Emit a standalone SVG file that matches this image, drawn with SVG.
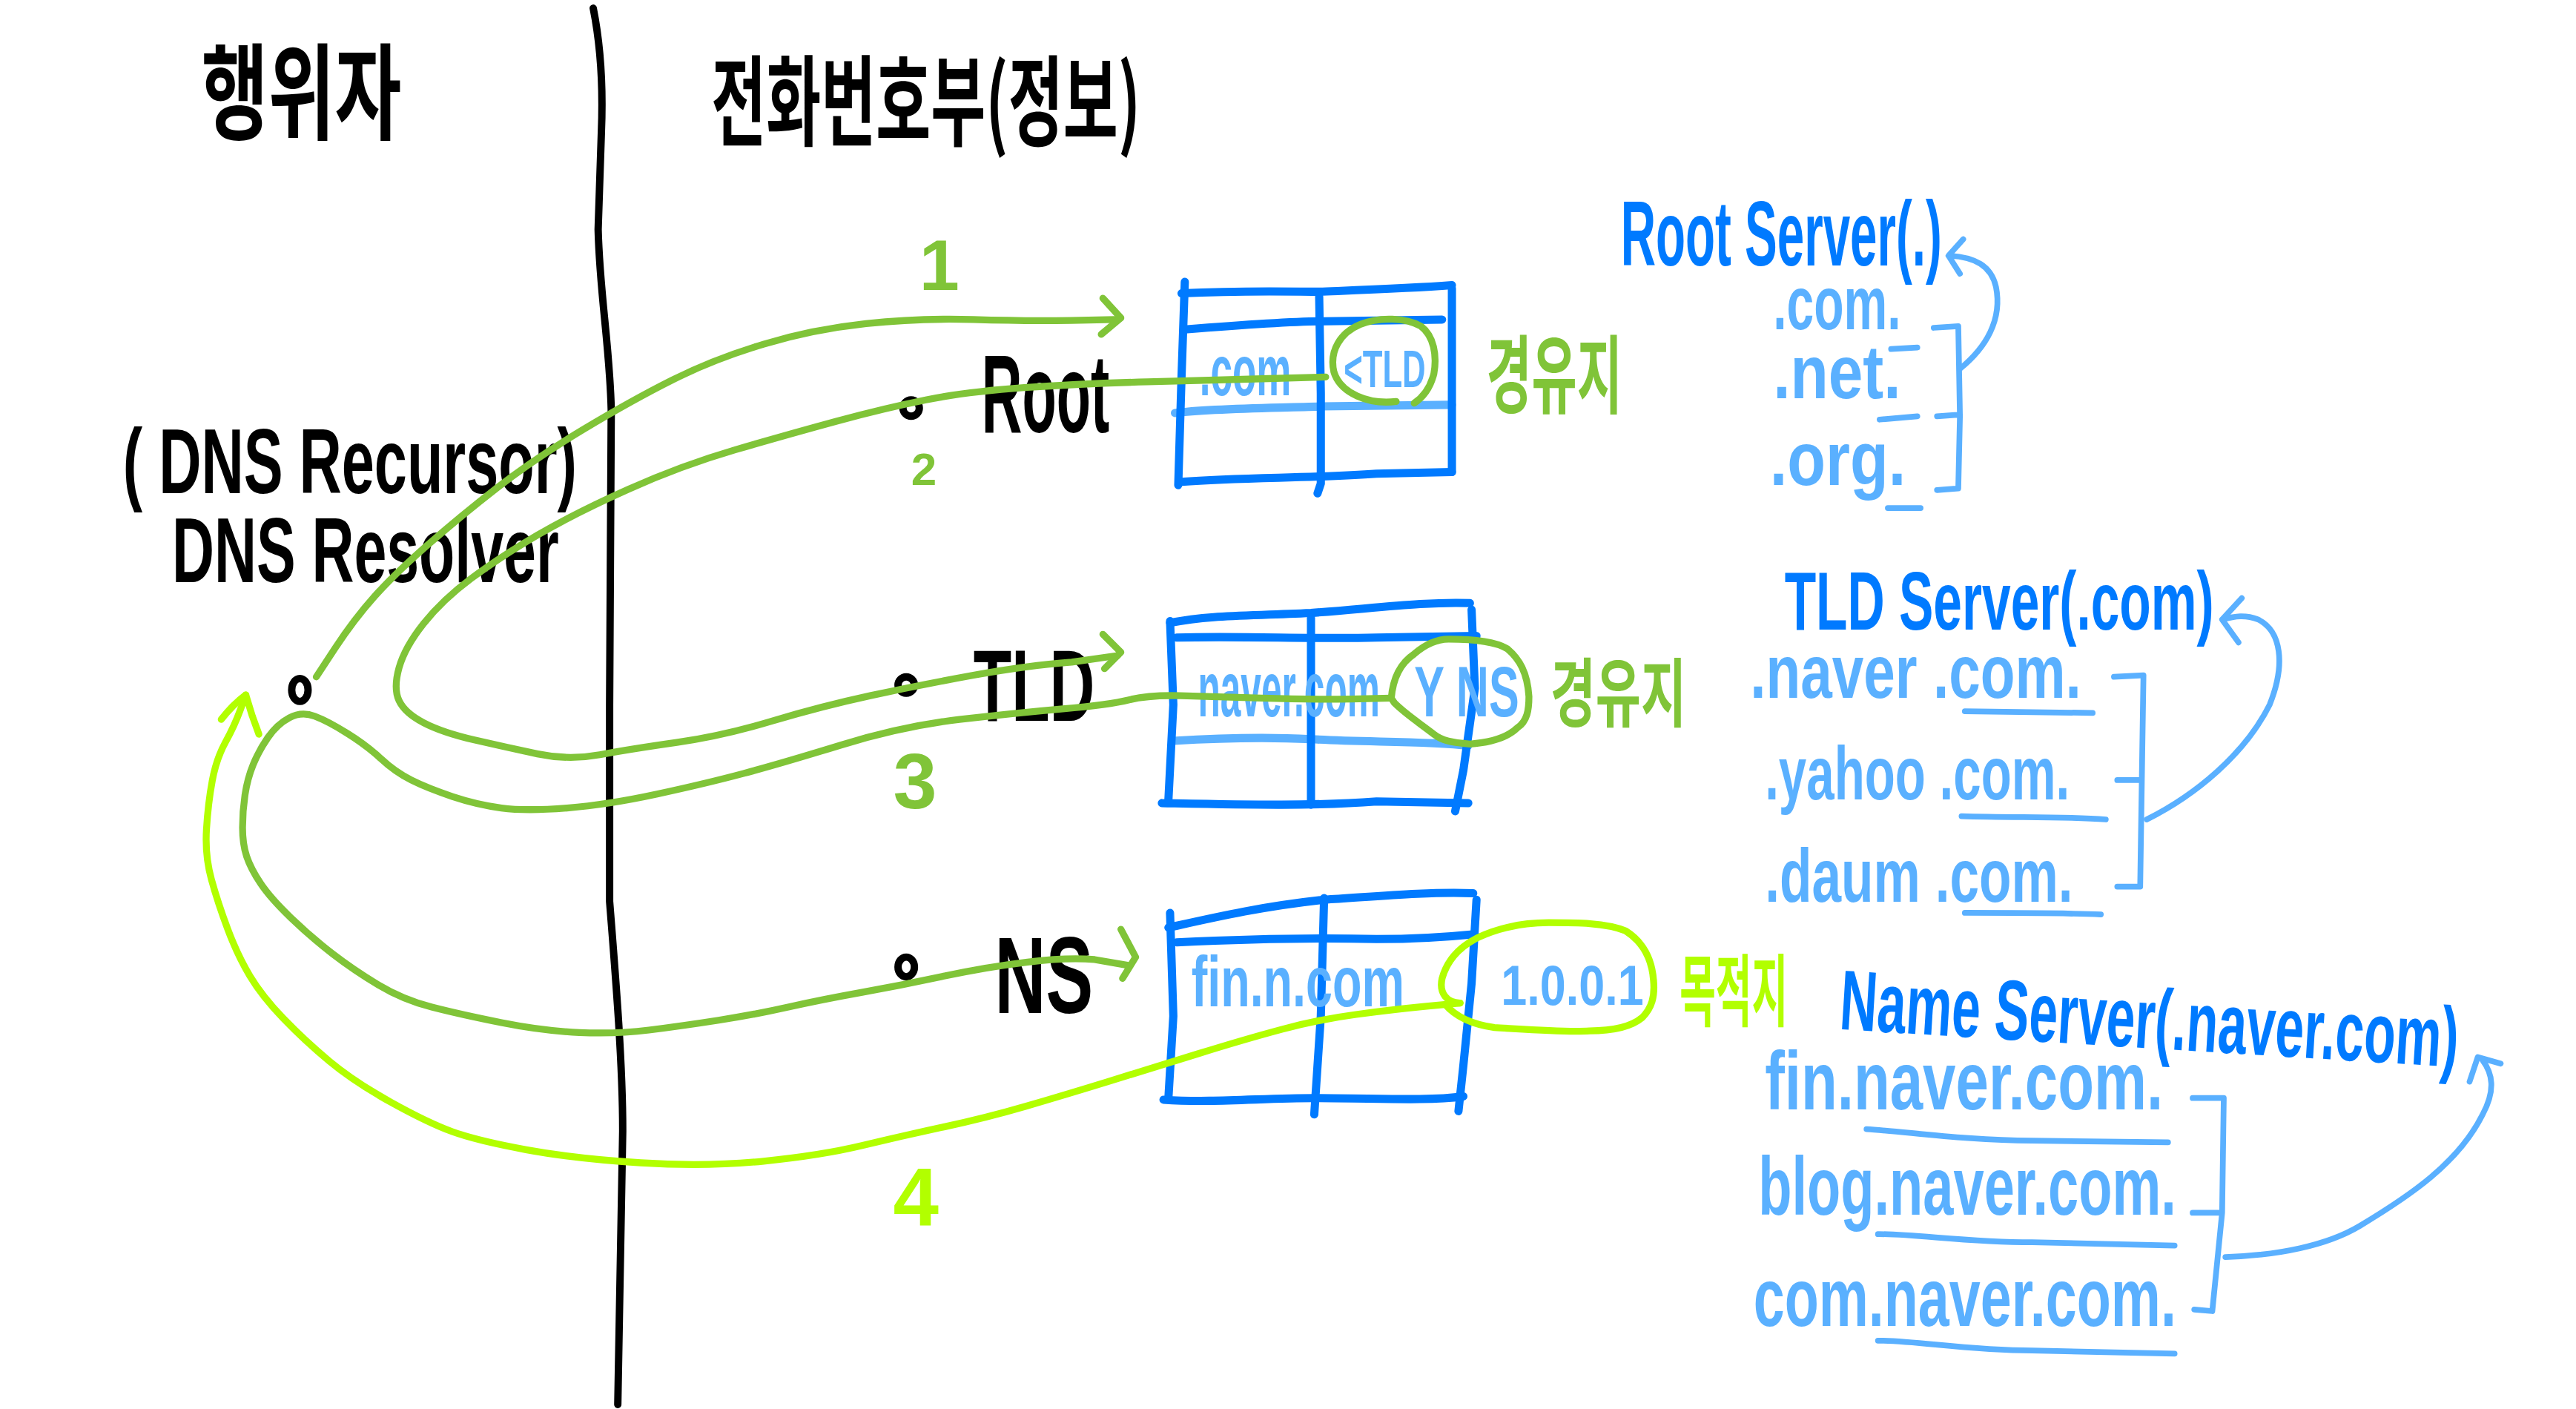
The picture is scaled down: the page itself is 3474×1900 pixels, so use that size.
<svg xmlns="http://www.w3.org/2000/svg" width="3474" height="1900" viewBox="0 0 3474 1900">
<style>
.t{font-family:"Liberation Sans","Noto Sans CJK KR",sans-serif;font-weight:700}
.k{font-family:"Noto Sans CJK KR","Liberation Sans",sans-serif;font-weight:700}
.blk{fill:#000}.db{fill:#007AFF}.lb{fill:#5AB0FF}.gr{fill:#80C438}.lm{fill:#B2FF00}
.sk{fill:none;stroke-linecap:round;stroke-linejoin:round}
.s-bk{stroke:#000;stroke-width:4.5}
.s-db{stroke:#007AFF;stroke-width:5}
.s-lb{stroke:#5AB0FF;stroke-width:5}
.s-lb3{stroke:#5AB0FF;stroke-width:3.5}
.s-gr{stroke:#80C438;stroke-width:4.2}
.s-lm{stroke:#B2FF00;stroke-width:4.2}
</style>
<rect width="3474" height="1900" fill="#fff"/>
<g transform="scale(2.21)">

<g id="divider">
<path class="sk s-bk" d="M362,5 C367,30 368,55 367,80 L365,140 C366,180 372,210 373,250 L372,430 L372,550 C376,600 380,650 380,690 L377,857"/>
</g>

<g id="header-actor">
<text class="k blk" x="123" y="80" font-size="64" textLength="122" lengthAdjust="spacingAndGlyphs">행위자</text>
</g>
<g id="header-phonebook">
<text class="k blk" x="434" y="84" font-size="60" textLength="262" lengthAdjust="spacingAndGlyphs">전화번호부(정보)</text>
</g>

<g id="resolver">
<text class="t blk" x="75" y="301" font-size="56" textLength="277" lengthAdjust="spacingAndGlyphs">( DNS Recursor)</text>
<text class="t blk" x="105" y="355" font-size="56" textLength="236" lengthAdjust="spacingAndGlyphs">DNS Resolver</text>
<ellipse class="sk s-bk" cx="183" cy="421" rx="5" ry="7"/>
</g>

<g id="root-label">
<ellipse class="sk s-bk" cx="556" cy="249" rx="5" ry="5"/>
<text class="t blk" x="599" y="264" font-size="68" textLength="78" lengthAdjust="spacingAndGlyphs">Root</text>
</g>
<g id="tld-label">
<ellipse class="sk s-bk" cx="553" cy="418" rx="5" ry="5"/>
<text class="t blk" x="594" y="440" font-size="62" textLength="74" lengthAdjust="spacingAndGlyphs">TLD</text>
</g>
<g id="ns-label">
<ellipse class="sk s-bk" cx="553" cy="590" rx="5" ry="6"/>
<text class="t blk" x="607" y="618" font-size="66" textLength="60" lengthAdjust="spacingAndGlyphs">NS</text>
</g>

<g id="root-table">
<path class="sk s-db" d="M721,179 C760,177 790,178 805,178 C830,177 860,176 886,174"/>
<path class="sk s-db" d="M723,201 C760,198 790,196 808,196 L880,195"/>
<path class="sk s-lb" d="M717,252 C740,249 780,249 806,248 L886,247"/>
<path class="sk s-db" d="M721,294 C760,291 800,292 840,289 L886,288"/>
<path class="sk s-db" d="M723,172 L721,230 L719,296"/>
<path class="sk s-db" d="M886,176 L886,288"/>
<path class="sk s-db" d="M805,181 L806,240 L806,295 L804,301"/>
<text class="t lb" x="732" y="241" font-size="44" textLength="56" lengthAdjust="spacingAndGlyphs">.com</text>
<text class="t lb" x="820" y="236" font-size="32" textLength="50" lengthAdjust="spacingAndGlyphs">&lt;TLD</text>
<path class="sk s-gr" d="M852,245 C835,247 818,240 814,227 C811,214 818,203 830,198 C842,193 858,194 867,199 C875,205 877,217 875,228 C873,236 869,242 863,246"/>
<text class="k gr" x="907" y="248" font-size="52" textLength="83" lengthAdjust="spacingAndGlyphs">경유지</text>
</g>

<g id="tld-table">
<path class="sk s-db" d="M714,380 C740,375 760,376 800,374 C840,371 870,367 897,368"/>
<path class="sk s-db" d="M718,389 C760,388 800,390 840,389 L901,388"/>
<path class="sk s-lb" d="M716,452 C750,450 780,450 800,451 C830,453 870,452 896,455"/>
<path class="sk s-db" d="M709,490 C760,491 800,492 840,489 L896,490"/>
<path class="sk s-db" d="M714,379 L716,430 L713,488"/>
<path class="sk s-db" d="M898,372 L900,420 L893,470 L888,495"/>
<path class="sk s-db" d="M800,377 L800,491"/>
<text class="t lb" x="731" y="437" font-size="48" textLength="111" lengthAdjust="spacingAndGlyphs">naver.com</text>
<text class="t lb" x="863" y="437" font-size="44" textLength="64" lengthAdjust="spacingAndGlyphs">Y NS</text>
<path class="sk s-gr" d="M849,426 C850,414 854,405 863,399 C870,393 877,390 884,390 C895,390 912,391 920,396 C927,402 932,410 933,425 C933,433 932,440 926,444 C920,450 910,453 897,454 C886,453 880,452 875,448 C866,441 858,436 851,429 Z"/>
<text class="k gr" x="946" y="440" font-size="46" textLength="83" lengthAdjust="spacingAndGlyphs">경유지</text>
</g>

<g id="ns-table">
<path class="sk s-db" d="M713,566 C740,560 770,553 808,549 C840,547 870,544 899,545"/>
<path class="sk s-db" d="M718,575 C760,573 800,572 840,573 C870,573 890,571 900,570"/>
<path class="sk s-db" d="M710,671 C740,673 770,670 802,670 C840,670 870,672 893,669"/>
<path class="sk s-db" d="M714,557 L716,620 L713,670"/>
<path class="sk s-db" d="M901,549 L898,600 L893,650 L890,678"/>
<path class="sk s-db" d="M808,548 L806,620 L802,680"/>
<text class="t lb" x="727" y="614" font-size="44" textLength="130" lengthAdjust="spacingAndGlyphs">fin.n.com</text>
<text class="t lb" x="916" y="613" font-size="34" textLength="87" lengthAdjust="spacingAndGlyphs">1.0.0.1</text>
<path class="sk s-lm" d="M891,612 C883,612 878,606 880,597 C883,586 890,578 902,572 C915,566 928,563 945,563 C962,563 980,563 992,568 C1003,575 1008,585 1009,598 C1010,608 1008,615 1002,621 C996,626 985,629 970,629 C955,630 930,628 912,627 C898,625 888,620 882,613"/>
<text class="k lm" x="1025" y="622" font-size="48" textLength="66" lengthAdjust="spacingAndGlyphs">목적지</text>
</g>

<g id="root-server">
<text class="t db" x="989" y="162" font-size="56" textLength="196" lengthAdjust="spacingAndGlyphs">Root Server(.)</text>
<text class="t lb" x="1082" y="201" font-size="46" textLength="78" lengthAdjust="spacingAndGlyphs">.com.</text>
<text class="t lb" x="1082" y="243" font-size="46" textLength="78" lengthAdjust="spacingAndGlyphs">.net.</text>
<text class="t lb" x="1080" y="296" font-size="46" textLength="83" lengthAdjust="spacingAndGlyphs">.org.</text>
<path class="sk s-lb3" d="M1154,213 L1170,212 M1147,256 L1170,254 M1152,310 L1172,310"/>
<path class="sk s-lb3" d="M1180,200 L1195,199 L1196,254 L1195,298 L1182,299 M1182,254 L1196,253"/>
<path class="sk s-lb3" d="M1196,225 C1212,212 1222,195 1218,175 C1215,162 1205,157 1190,156 M1198,146 L1189,156 L1196,167"/>
</g>

<g id="tld-server">
<text class="t db" x="1089" y="384" font-size="50" textLength="262" lengthAdjust="spacingAndGlyphs">TLD Server(.com)</text>
<text class="t lb" x="1068" y="426" font-size="46" textLength="202" lengthAdjust="spacingAndGlyphs">.naver .com.</text>
<text class="t lb" x="1077" y="488" font-size="46" textLength="186" lengthAdjust="spacingAndGlyphs">.yahoo .com.</text>
<text class="t lb" x="1077" y="550" font-size="46" textLength="188" lengthAdjust="spacingAndGlyphs">.daum .com.</text>
<path class="sk s-lb3" d="M1199,434 L1277,435 M1197,498 C1230,499 1260,498 1285,500 M1199,557 C1230,557 1260,557 1282,558"/>
<path class="sk s-lb3" d="M1290,413 L1308,412 L1307,476 L1306,541 L1292,541 M1292,476 L1307,476"/>
<path class="sk s-lb3" d="M1310,500 C1340,485 1370,460 1385,430 C1395,405 1392,385 1378,378 C1370,375 1364,376 1356,378 M1368,365 L1356,378 L1366,392"/>
</g>

<g id="name-server">
<text class="t db" x="1122" y="628" font-size="52" textLength="378" lengthAdjust="spacingAndGlyphs" transform="rotate(3.5 1122 628)">Name Server(.naver.com)</text>
<text class="t lb" x="1077" y="677" font-size="50" textLength="243" lengthAdjust="spacingAndGlyphs">fin.naver.com.</text>
<text class="t lb" x="1073" y="741" font-size="50" textLength="255" lengthAdjust="spacingAndGlyphs">blog.naver.com.</text>
<text class="t lb" x="1070" y="809" font-size="50" textLength="258" lengthAdjust="spacingAndGlyphs">com.naver.com.</text>
<path class="sk s-lb3" d="M1139,689 C1160,690 1200,696 1240,696 L1323,697 M1146,753 C1170,753 1200,758 1240,758 L1327,760 M1146,818 C1170,818 1200,824 1240,824 L1327,826"/>
<path class="sk s-lb3" d="M1338,670 L1357,670 L1356,740 L1350,800 L1339,799 M1338,740 L1355,740"/>
<path class="sk s-lb3" d="M1358,767 C1390,766 1420,760 1440,748 C1470,730 1500,710 1515,680 C1523,665 1521,655 1515,647 M1507,660 L1512,645 L1526,649"/>
</g>

<g id="connectors">
<g id="step-1">
<path class="sk s-gr" d="M193,413 L204.5,395.5 Q216,378 228.5,364 Q241,350 261,332.5 Q281,315 303.5,297.5 Q326,280 356,262 Q386,244 411,231.5 Q436,219 466,210 Q496,201 528.5,197.5 Q561,194 594,195 Q627,196 653.5,195.5 L680,195"/>
<path class="sk s-gr" d="M673,182 L684,194 L672,204"/>
<text class="t gr" x="561" y="177" font-size="44">1</text>
</g>
<g id="step-2">
<path class="sk s-gr" d="M809,230 L774.5,231 Q740,232 700,233 Q660,234 625,236.5 Q590,239 565,244 Q540,249 510.5,257 Q481,265 448.5,274.5 Q416,284 383.5,298.5 Q351,313 328,326.5 Q305,340 287.5,353 Q270,366 258.5,380.5 Q247,395 243.5,407.5 Q240,420 243.5,427.5 Q247,435 258.5,441 Q270,447 289.5,451.5 Q309,456 328,460 Q347,464 366,460.5 Q385,457 413,453 Q441,449 471,440 Q501,431 531,424.5 Q561,418 594,412 Q627,406 654,404 L682,400"/>
<path class="sk s-gr" d="M673,387 L684,398 L674,408"/>
<text class="t gr" x="556" y="296" font-size="28">2</text>
</g>
<g id="step-3">
<path class="sk s-gr" d="M849,426 L824.5,426.5 Q800,427 770,426 Q740,425 720.5,424.5 Q701,424 689,427 Q677,430 648.5,432.5 Q620,435 585.5,439 Q551,443 513.5,454.5 Q476,466 453.5,472 Q431,478 401,484.5 Q371,491 346,493 Q321,495 306,493 Q291,491 276,486 Q261,481 251,476 Q241,471 232.5,463 Q224,455 212,447.5 Q200,440 192,437 Q184,434 176.5,438 Q169,442 163.5,450 Q158,458 154.5,466.5 Q151,475 149.5,485 Q148,495 148,505 Q148,515 150.5,522.5 Q153,530 159,539 Q165,548 177.5,560 Q190,572 203,582 Q216,592 231,601 Q246,610 263.5,614.5 Q281,619 306,624 Q331,629 353.5,630 Q376,631 396,628.5 Q416,626 438.5,622.5 Q461,619 481,614.5 Q501,610 526,605.5 Q551,601 576.5,595.5 Q602,590 627,587 Q652,584 668,585.5 L688,589"/>
<path class="sk s-gr" d="M684,567 L693,584 L685,597"/>
<text class="t gr" x="545" y="493" font-size="48">3</text>
</g>
<g id="step-4">
<path class="sk s-lm" d="M891,612 L870.5,614 Q850,616 827.5,619 Q805,622 782.5,628 Q760,634 731,643 Q702,652 676,660 Q650,668 626,675 Q602,682 576.5,687.5 Q551,693 526,699 Q501,705 466,708.5 Q431,712 391,709.5 Q351,707 321,701.5 Q291,696 276,690.5 Q261,685 238.5,672.5 Q216,660 201,647.5 Q186,635 173,621.5 Q160,608 152.5,595.5 Q145,583 139,567 Q133,551 129,536.5 Q125,522 126,506 Q127,490 129.5,476.5 Q132,463 137.5,453 Q143,443 146.5,433.5 L150,424"/>
<path class="sk s-lm" d="M135,439 Q142,430 150,424 L154,437 L158,448"/>
<text class="t lm" x="545" y="748" font-size="50">4</text>
</g>
</g>

</g>
</svg>
